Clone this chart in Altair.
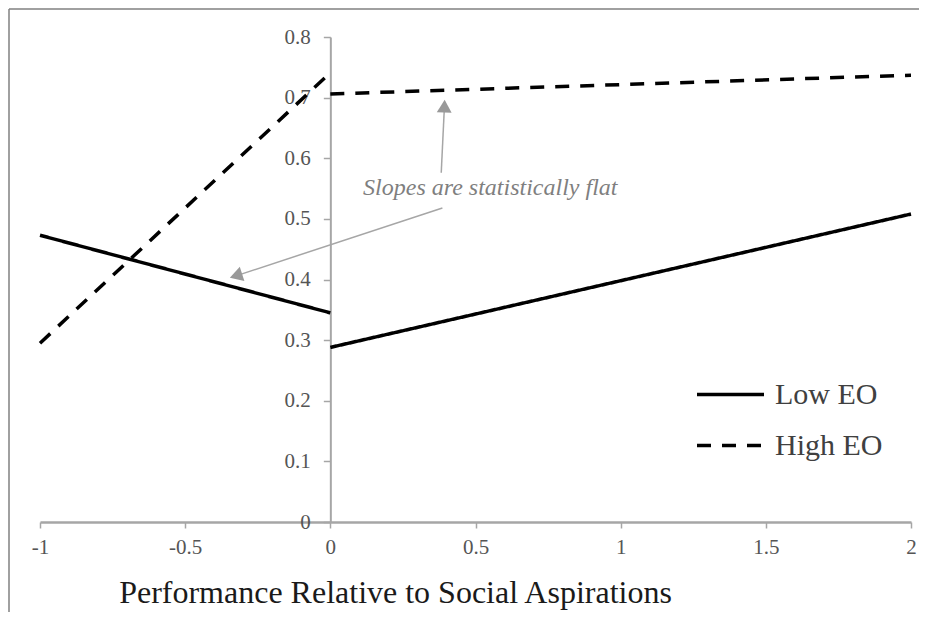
import altair as alt
import pandas as pd

# Line data (two segments per series, broken at x = 0)
series = ["Low EO", "Low EO", "Low EO", "Low EO",
          "High EO", "High EO", "High EO", "High EO"]
segment = ["low_a", "low_a", "low_b", "low_b",
           "high_a", "high_a", "high_b", "high_b"]
xvals = [-1, 0, 0, 2, -1, 0, 0, 2]
yvals = [0.473, 0.345, 0.288, 0.508, 0.295, 0.741, 0.706, 0.737]

x_ticks = [-1, -0.5, 0, 0.5, 1, 1.5, 2]
y_ticks = [0, 0.1, 0.2, 0.3, 0.4, 0.5, 0.6, 0.7, 0.8]

note_text = ["Slopes are statistically flat"]
note_x = [0.551]
note_y = [0.551]

# annotation arrows (start -> head)
arrow_x = [0.382, 0.386]
arrow_y = [0.576, 0.518]
arrow_x2 = [0.393, -0.325]
arrow_y2 = [0.686, 0.406]
arrow_angle = [2, 252]

W, H = 871, 485

df = pd.DataFrame({"series": series, "segment": segment, "x": xvals, "y": yvals})
note_df = pd.DataFrame({"text": note_text, "x": note_x, "y": note_y})
arr_df = pd.DataFrame({"x": arrow_x, "y": arrow_y, "x2": arrow_x2, "y2": arrow_y2,
                       "angle": arrow_angle})

font = "Liberation Serif"
axis_gray = "#a6a6a6"

xscale = alt.Scale(domain=[-1, 2], nice=False, zero=False)
yscale = alt.Scale(domain=[0, 0.8], nice=False)

x_axis = alt.Axis(values=x_ticks, labelExpr="'' + datum.value", grid=False, labelFlush=False,
                  domainColor=axis_gray, domainWidth=2.5, tickColor=axis_gray,
                  tickWidth=1.5, tickSize=6, labelFont=font, labelFontSize=21,
                  labelColor="#555555", labelPadding=8,
                  title="Performance Relative to Social Aspirations",
                  titleFont=font, titleFontSize=32, titleFontWeight="normal",
                  titleColor="#1a1a1a", titleX=355, titleY=80,
                  titleBaseline="alphabetic", titleAlign="center")
y_axis = alt.Axis(values=y_ticks, labelExpr="'' + datum.value", grid=False, offset=-W / 3,
                  domainColor=axis_gray, domainWidth=2, tickColor=axis_gray,
                  tickWidth=1.5, tickSize=7, labelFont=font, labelFontSize=21,
                  labelColor="#555555", labelPadding=13, title=None)

lines = alt.Chart(df).mark_line(color="black", strokeWidth=3.5, strokeCap="butt").encode(
    x=alt.X("x:Q", scale=xscale, axis=x_axis),
    y=alt.Y("y:Q", scale=yscale, axis=y_axis),
    detail="segment:N",
    strokeDash=alt.StrokeDash(
        "series:N",
        scale=alt.Scale(domain=["Low EO", "High EO"], range=[[1, 0], [14, 11]]),
        legend=alt.Legend(title=None, orient="none", legendX=655, legendY=322,
                          symbolType="stroke", symbolSize=4489,
                          symbolStrokeWidth=3.5, symbolStrokeColor="black",
                          labelFont=font, labelFontSize=30, labelColor="#404040",
                          labelOffset=9, rowPadding=-17),
    ),
)

arrow_lines = alt.Chart(arr_df).mark_rule(color="#a6a6a6", strokeWidth=1.5).encode(
    x="x:Q", y="y:Q", x2="x2:Q", y2="y2:Q"
)
arrow_heads = alt.Chart(arr_df).mark_point(
    shape="triangle-up", filled=True, color="#999999", size=220, opacity=1
).encode(x="x2:Q", y="y2:Q", angle=alt.Angle("angle:Q", scale=None))

note = alt.Chart(note_df).mark_text(
    font=font, fontSize=24, fontStyle="italic", color="#7f7f7f"
).encode(x="x:Q", y="y:Q", text="text:N")

border = alt.Chart(pd.DataFrame({"k": [0]})).mark_rule(color="#808080", strokeWidth=1.5).encode(
    x=alt.value(-31), x2=alt.value(W + 8), y=alt.value(-28)
)
border_left = alt.Chart(pd.DataFrame({"k": [0]})).mark_rule(color="#808080", strokeWidth=1.5).encode(
    x=alt.value(-31), y=alt.value(-28), y2=alt.value(H + 95)
)

chart = alt.layer(border, border_left, arrow_lines, arrow_heads, note, lines).properties(
    width=W, height=H,
    autosize=alt.AutoSizeParams(type="none"),
    padding={"left": 32, "top": 29, "right": 8, "bottom": 90},
    background="white",
).configure_view(stroke=None)

chart.save("out.html", embed_options={"renderer": "svg", "actions": False})
